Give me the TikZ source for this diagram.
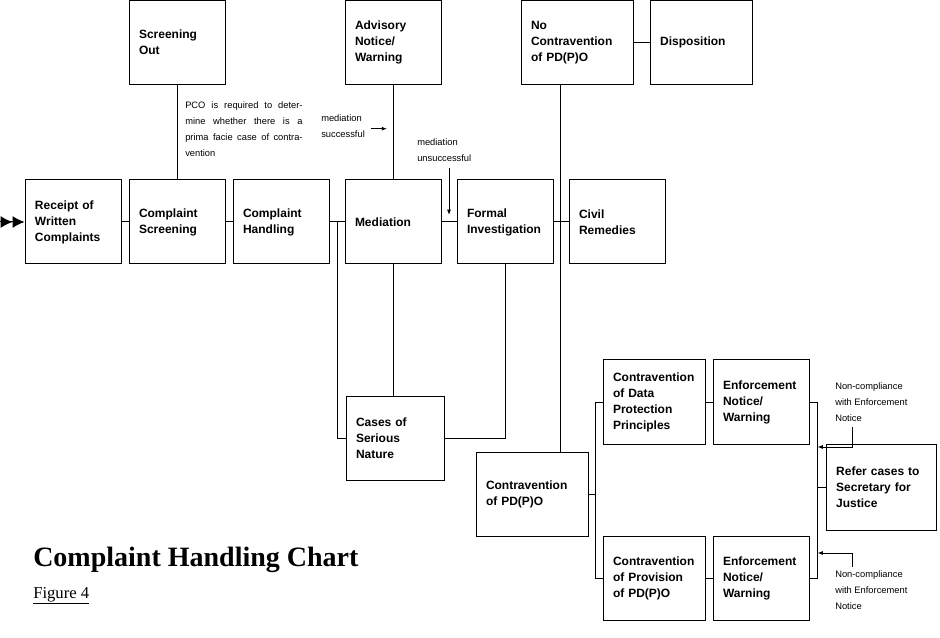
\documentclass[tikz,border=0pt]{standalone}
\usepackage{fontspec}
\setmainfont{Liberation Serif}
\setsansfont{Liberation Sans}
\usetikzlibrary{arrows.meta,calc}
\tikzset{
  box/.style n args={2}{draw, line width=0.75pt, minimum width=#1, minimum height=#2, text width=#1-15pt, align=left, inner xsep=7.5pt, font=\sffamily\bfseries\fontsize{9}{12}\selectfont},
  ln/.style={line width=0.75pt},
  note/.style={font=\sffamily\fontsize{7}{12}\selectfont, inner sep=0pt, anchor=north west, align=left},
  arr/.style={ln, -{Latex[length=4pt,width=3pt]}}
}
\begin{document}
\begin{tikzpicture}[x=0.75pt,y=-0.75pt]
\useasboundingbox (0,0) rectangle (940,638);
\node[box={72pt}{63pt}] (so) at (177,42.5) {Screening\\Out\\[12pt]};
\node[box={72pt}{63pt}] (adv) at (393,42.5) {Advisory\\Notice/\\Warning\\[4pt]};
\node[box={84pt}{63pt}] (nc) at (577,42.5) {No\\Contravention\\of PD(P)O\\[4pt]};
\node[box={77pt}{63pt}] (disp) at (701.5,42.5) {Disposition};
\node[box={72pt}{63pt}] (rw) at (73,222) {Receipt of\\Written\\Complaints};
\node[box={72pt}{63pt}] (cs) at (177,222) {Complaint\\Screening\\[8pt]};
\node[box={72pt}{63pt}] (ch) at (281,222) {Complaint\\Handling\\[8pt]};
\node[box={72pt}{63pt}] (med) at (393,222) {Mediation};
\node[box={72pt}{63pt}] (fi) at (505,222) {Formal\\Investigation\\[8pt]};
\node[box={72pt}{63pt}] (cr) at (617,222) {Civil\\Remedies\\[8pt]};
\node[box={73.5pt}{63pt}] (cases) at (395,438) {Cases of\\Serious\\Nature};
\node[box={84pt}{63pt}] (cp) at (532,494) {Contravention\\of PD(P)O\\[8pt]};
\node[box={76.5pt}{63pt}] (cd) at (654,402) {Contravention\\of Data\\Protection\\Principles\\[4pt]};
\node[box={72pt}{63pt}] (e1) at (761,402) {Enforcement\\Notice/\\Warning};
\node[box={83pt}{65pt}] (ref) at (881.5,487.5) {Refer cases to\\Secretary for\\Justice};
\node[box={76.5pt}{63pt}] (cpv) at (654,578) {Contravention\\of Provision\\of PD(P)O};
\node[box={72pt}{63pt}] (e2) at (761,578) {Enforcement\\Notice/\\Warning};
% connectors
\draw[ln] (so.south) -- (cs.north);
\draw[ln] (adv.south) -- (med.north);
\draw[ln] (nc.east) -- (disp.west);
\coordinate (a) at ($(nc.south west)+(40,0)$);
\draw[ln] (a) -- (a |- cp.north);
\draw[ln] (rw.east) -- (cs.west);
\draw[ln] (cs.east) -- (ch.west);
\draw[ln] (ch.east) -- (med.west);
\draw[ln] (med.east) -- (fi.west);
\draw[ln] (fi.east) -- (cr.west);
\coordinate (j1) at ($(ch.east)+(8,0)$);
\draw[ln] (j1) |- (cases.west);
\draw[ln] (med.south) -- (med.south |- cases.north);
\draw[ln] (fi.south) |- (cases.east);
\coordinate (b1) at ($(cp.east)+(7,0)$);
\draw[ln] (cp.east) -- (b1);
\draw[ln] (cd.west) -- (b1 |- cd.west) -- (b1 |- cpv.west) -- (cpv.west);
\draw[ln] (cd.east) -- (e1.west);
\draw[ln] (cpv.east) -- (e2.west);
\coordinate (b2) at ($(e1.east)+(8,0)$);
\draw[ln] (e1.east) -- (b2) -- (b2 |- e2.east) -- (e2.east);
\draw[ln] (b2 |- ref.west) -- (ref.west);
% entry arrow
\draw[ln, -{Latex[length=9pt,width=9pt]Latex[length=9pt,width=9pt]}] (0,222) -- (rw.west);
% notes
\node[note, text width=88pt, align=justify] (pco) at (185,101) {PCO is required to determine whether there is a prima facie case of contravention};
\node[note] (ms) at (321,114) {mediation\\successful};
\draw[arr] ($(ms.east)+(6,3)$) coordinate (ms1) -- ++(16,0);
\node[note] (mu) at (417,138) {mediation\\unsuccessful};
\coordinate (mu1) at (449,168);
\draw[arr] (mu1) -- (449,215);
\node[note] (nc1) at (835,382) {Non-compliance\\with Enforcement\\Notice};
\coordinate (n1) at (852,427);
\draw[arr] (n1) -- (852,447) -- (b2 |- 0,447);
\node[note] (nc2) at (835,570) {Non-compliance\\with Enforcement\\Notice};
\coordinate (n2) at (852,567);
\draw[arr] (n2) -- (852,553) -- (b2 |- 0,553);
% title
\node[anchor=base west, inner sep=0pt, font=\rmfamily\bfseries\fontsize{21}{24}\selectfont] (title) at (33,566) {Complaint Handling Chart};
\node[anchor=base west, inner sep=0pt, font=\rmfamily\fontsize{12.5}{14}\selectfont] (fig) at (33,598) {\underline{Figure 4}};
\end{tikzpicture}
\end{document}
